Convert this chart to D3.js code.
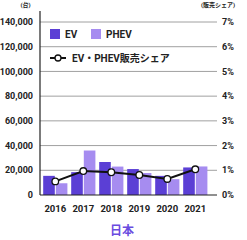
<!DOCTYPE html>
<html>
<head>
<meta charset="utf-8">
<script src="https://cdn.jsdelivr.net/npm/d3@7"></script>
<style>
  body { margin: 0; background: #fff; }
  text { font-family: Roboto, "Noto Sans CJK JP", sans-serif; font-weight: bold; }
</style>
</head>
<body>
<div id="chart-area"></div>
<script>
const years = ['2016', '2017', '2018', '2019', '2020', '2021'];
const evSales = [15500, 18500, 26700, 21000, 15500, 22300];
const phevSales = [9500, 36000, 23000, 17800, 12800, 23100];
const share = [0.55, 0.97, 0.92, 0.81, 0.65, 1.04];
const leftTicks = [0, 20000, 40000, 60000, 80000, 100000, 120000, 140000];
const rightTicks = [0, 1, 2, 3, 4, 5, 6, 7];

const width = 247, height = 240;
const evColor = '#5b3fd5', phevColor = '#a68cf0';

let svg = d3.select('#chart-area')
  .append('svg')
  .attr('width', width)
  .attr('height', height)

let y = d3.scaleLinear()
  .domain([0, 140000])
  .range([195, 22])

let y2 = d3.scaleLinear()
  .domain([0, 7])
  .range([195, 22])

let x = d3.scaleBand()
  .domain(years)
  .range([41.3, 209.3])

let xs = d3.scaleBand()
  .domain(['ev', 'phev'])
  .range([0, x.bandwidth()])
  .paddingInner(0.08)
  .paddingOuter(0.15)

// grid lines
svg.append('g')
  .selectAll('line')
  .data(leftTicks.slice(1))
  .join('line')
  .attr('x1', 40).attr('x2', 217)
  .attr('y1', d => y(d)).attr('y2', d => y(d))
  .attr('stroke', '#a0a0a0')
  .attr('stroke-width', 1)

// left labels
svg.append('g')
  .selectAll('text')
  .data(leftTicks)
  .join('text')
  .attr('x', 33)
  .attr('y', d => y(d) + 3.2)
  .attr('text-anchor', 'end')
  .style('font-size', '9px')
  .attr('fill', '#222')
  .text(d => d3.format(',')(d))

// right labels
svg.append('g')
  .selectAll('text')
  .data(rightTicks)
  .join('text')
  .attr('x', 222)
  .attr('y', d => y2(d) + 3.2)
  .style('font-size', '9px')
  .attr('fill', '#222')
  .text(d => d + '%')

svg.append('text')
  .attr('x', 25.5).attr('y', 7)
  .attr('text-anchor', 'middle')
  .style('font-size', '6px')
  .attr('fill', '#222')
  .text('(台)')

svg.append('text')
  .attr('x', 218).attr('y', 7)
  .attr('text-anchor', 'middle')
  .style('font-size', '6px')
  .attr('fill', '#222')
  .text('(販売シェア)')

// bars
let groups = svg.append('g')
  .selectAll('g')
  .data(years)
  .join('g')
  .attr('transform', d => `translate(${x(d)}, 0)`)

groups.append('rect')
  .attr('x', xs('ev'))
  .attr('width', xs.bandwidth())
  .attr('y', (d, i) => y(evSales[i]))
  .attr('height', (d, i) => y(0) - y(evSales[i]))
  .attr('fill', evColor)

groups.append('rect')
  .attr('x', xs('phev'))
  .attr('width', xs.bandwidth())
  .attr('y', (d, i) => y(phevSales[i]))
  .attr('height', (d, i) => y(0) - y(phevSales[i]))
  .attr('fill', phevColor)

// axes lines
svg.append('line')
  .attr('x1', 40).attr('x2', 217)
  .attr('y1', y(0)).attr('y2', y(0))
  .attr('stroke', '#222').attr('stroke-width', 1.2)

svg.append('line')
  .attr('x1', 40).attr('x2', 40)
  .attr('y1', 11).attr('y2', y(0))
  .attr('stroke', '#222').attr('stroke-width', 1.2)

// share line
let line = d3.line()
  .x((d, i) => x(years[i]) + x.bandwidth() / 2)
  .y(d => y2(d))

svg.append('path')
  .datum(share)
  .attr('d', line)
  .attr('fill', 'none')
  .attr('stroke', '#111')
  .attr('stroke-width', 2)

svg.append('g')
  .selectAll('circle')
  .data(share)
  .join('circle')
  .attr('cx', (d, i) => x(years[i]) + x.bandwidth() / 2)
  .attr('cy', d => y2(d))
  .attr('r', 3.3)
  .attr('fill', '#fff')
  .attr('stroke', '#111')
  .attr('stroke-width', 1.3)

// x labels
svg.append('g')
  .selectAll('text')
  .data(years)
  .join('text')
  .attr('x', d => x(d) + x.bandwidth() / 2)
  .attr('y', 212)
  .attr('text-anchor', 'middle')
  .style('font-size', '9.5px')
  .attr('fill', '#222')
  .text(d => d)

svg.append('text')
  .attr('x', 122).attr('y', 235)
  .attr('text-anchor', 'middle')
  .style('font-size', '12px')
  .attr('fill', '#6a4ce0')
  .text('日本')

// legend
let legend = svg.append('g')
legend.append('rect').attr('x', 50).attr('y', 29).attr('width', 10).attr('height', 10).attr('fill', evColor)
legend.append('text').attr('x', 65).attr('y', 38).style('font-size', '10px').attr('fill', '#222').text('EV')
legend.append('rect').attr('x', 91).attr('y', 29).attr('width', 10).attr('height', 10).attr('fill', phevColor)
legend.append('text').attr('x', 106).attr('y', 38).style('font-size', '10px').attr('fill', '#222').text('PHEV')
legend.append('line').attr('x1', 50).attr('x2', 66).attr('y1', 58).attr('y2', 58).attr('stroke', '#111').attr('stroke-width', 2)
legend.append('circle').attr('cx', 58).attr('cy', 58).attr('r', 3).attr('fill', '#fff').attr('stroke', '#111').attr('stroke-width', 1.3)
legend.append('text').attr('x', 72).attr('y', 61.5).style('font-size', '10px').attr('fill', '#222').text('EV・PHEV販売シェア')
</script>
</body>
</html>
